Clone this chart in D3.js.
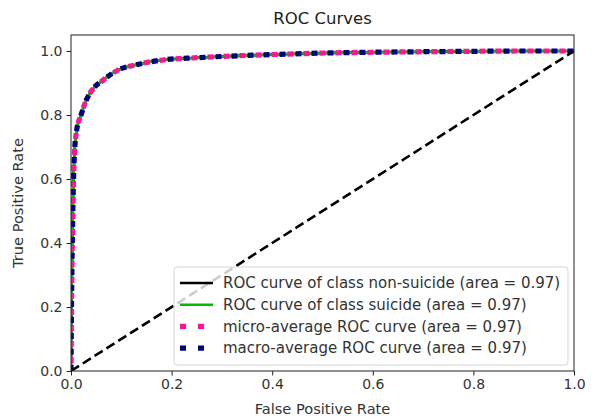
<!DOCTYPE html>
<html>
<head>
<meta charset="utf-8">
<script src="https://cdn.jsdelivr.net/npm/d3@7"></script>
<style>
  html, body { margin: 0; padding: 0; background: #fff; }
  svg { display: block; font-family: "DejaVu Sans", sans-serif; }
</style>
</head>
<body>
<svg id="chart" width="592" height="419"></svg>
<script>
// ---- data ----
const fpr = [0, 0.001, 0.003, 0.006, 0.011, 0.02, 0.03, 0.042, 0.064, 0.093, 0.127, 0.183, 0.25, 0.316, 0.4, 0.515, 0.65, 0.8, 0.9, 1.0];
const tprNonSuicide = [0, 0.2, 0.44, 0.65, 0.75, 0.8, 0.845, 0.878, 0.909, 0.94, 0.956, 0.972, 0.979, 0.984, 0.989, 0.994, 0.997, 0.999, 1.0, 1.0];
const tprSuicide    = [0, 0.2, 0.44, 0.65, 0.75, 0.8, 0.845, 0.878, 0.909, 0.94, 0.956, 0.972, 0.979, 0.984, 0.989, 0.994, 0.997, 0.999, 1.0, 1.0];
const tprMicro      = [0, 0.2, 0.44, 0.65, 0.75, 0.8, 0.845, 0.878, 0.909, 0.94, 0.956, 0.972, 0.979, 0.984, 0.989, 0.994, 0.997, 0.999, 1.0, 1.0];
const tprMacro      = [0, 0.2, 0.44, 0.65, 0.75, 0.8, 0.845, 0.878, 0.909, 0.94, 0.956, 0.972, 0.979, 0.984, 0.989, 0.994, 0.997, 0.999, 1.0, 1.0];
const chanceX = [0, 1];
const chanceY = [0, 1];
const seriesNames = [
  "ROC curve of class non-suicide (area = 0.97)",
  "ROC curve of class suicide (area = 0.97)",
  "micro-average ROC curve (area = 0.97)",
  "macro-average ROC curve (area = 0.97)"
];
const xTicks = [0.0, 0.2, 0.4, 0.6, 0.8, 1.0];
const yTicks = [0.0, 0.2, 0.4, 0.6, 0.8, 1.0];
const titleText = "ROC Curves";
const xLabel = "False Positive Rate";
const yLabel = "True Positive Rate";

// ---- layout ----
const svg = d3.select("#chart");
const m = { left: 71, right: 574, top: 35, bottom: 371 };
const x = d3.scaleLinear().domain([0, 1]).range([m.left, m.right]);
const y = d3.scaleLinear().domain([0, 1.05]).range([m.bottom, m.top]);

const styles = [
  { color: "#000000", width: 2.6, dash: null, legendDash: null, offset: 0 },
  { color: "#00bb00", width: 2.6, dash: null, legendDash: null, offset: 0 },
  { color: "#ff1493", width: 5.2, dash: "6,10", legendDash: "6,12", offset: -8 },
  { color: "#000080", width: 5.2, dash: "6,10", legendDash: "6,12", offset: 0 }
];
const tprs = [tprNonSuicide, tprSuicide, tprMicro, tprMacro];

const line = d3.line().x(d => x(d[0])).y(d => y(d[1])).curve(d3.curveMonotoneX);

svg.append("clipPath").attr("id", "clip")
  .append("rect").attr("x", m.left).attr("y", m.top)
  .attr("width", m.right - m.left).attr("height", m.bottom - m.top);

const plot = svg.append("g").attr("clip-path", "url(#clip)");
tprs.forEach((t, i) => {
  const pts = fpr.map((f, j) => [f, t[j]]);
  plot.append("path").datum(pts)
    .attr("d", line)
    .attr("fill", "none")
    .attr("stroke", styles[i].color)
    .attr("stroke-width", styles[i].width)
    .attr("stroke-dasharray", styles[i].dash)
    .attr("stroke-dashoffset", styles[i].offset)
    .attr("stroke-linejoin", "round");
});
plot.append("path").datum(chanceX.map((v, i) => [v, chanceY[i]]))
  .attr("d", d3.line().x(d => x(d[0])).y(d => y(d[1])))
  .attr("fill", "none").attr("stroke", "#000").attr("stroke-width", 2.6)
  .attr("stroke-dasharray", "9.5,4.5");

// frame
svg.append("rect").attr("x", m.left).attr("y", m.top)
  .attr("width", m.right - m.left).attr("height", m.bottom - m.top)
  .attr("fill", "none").attr("stroke", "#222").attr("stroke-width", 1);

// axes
const fmt = d3.format(".1f");
const xAxis = svg.append("g").attr("transform", `translate(0,${m.bottom})`)
  .call(d3.axisBottom(x).tickValues(xTicks).tickFormat(fmt).tickSize(4.5).tickPadding(4));
const yAxis = svg.append("g").attr("transform", `translate(${m.left},0)`)
  .call(d3.axisLeft(y).tickValues(yTicks).tickFormat(fmt).tickSize(4.5).tickPadding(4));
[xAxis, yAxis].forEach(a => {
  a.select(".domain").remove();
  a.selectAll("line").attr("stroke", "#222");
  a.selectAll("text").attr("font-size", 14).attr("fill", "#333").attr("font-family", "DejaVu Sans");
});

// titles
svg.append("text").attr("x", (m.left + m.right) / 2).attr("y", 24)
  .attr("text-anchor", "middle").attr("font-size", 16.5).attr("fill", "#222").text(titleText);
svg.append("text").attr("x", (m.left + m.right) / 2).attr("y", 414)
  .attr("text-anchor", "middle").attr("font-size", 14.6).attr("fill", "#333").text(xLabel);
svg.append("text").attr("transform", `translate(23,${(m.top + m.bottom) / 2}) rotate(-90)`)
  .attr("text-anchor", "middle").attr("font-size", 14.6).attr("fill", "#333").text(yLabel);

// legend
const lg = svg.append("g");
lg.append("rect").attr("x", 174).attr("y", 267).attr("width", 394).attr("height", 98)
  .attr("rx", 3).attr("fill", "#fff").attr("fill-opacity", 0.8)
  .attr("stroke", "#d5d5d5").attr("stroke-width", 1);
seriesNames.forEach((name, i) => {
  const cy = 283 + i * 21.7;
  lg.append("line").attr("x1", 180).attr("x2", 213).attr("y1", cy).attr("y2", cy)
    .attr("stroke", styles[i].color).attr("stroke-width", styles[i].width)
    .attr("stroke-dasharray", styles[i].legendDash);
  lg.append("text").attr("x", 223).attr("y", cy).attr("dy", "0.35em")
    .attr("font-size", 15).attr("fill", "#333").text(name);
});
</script>
</body>
</html>
